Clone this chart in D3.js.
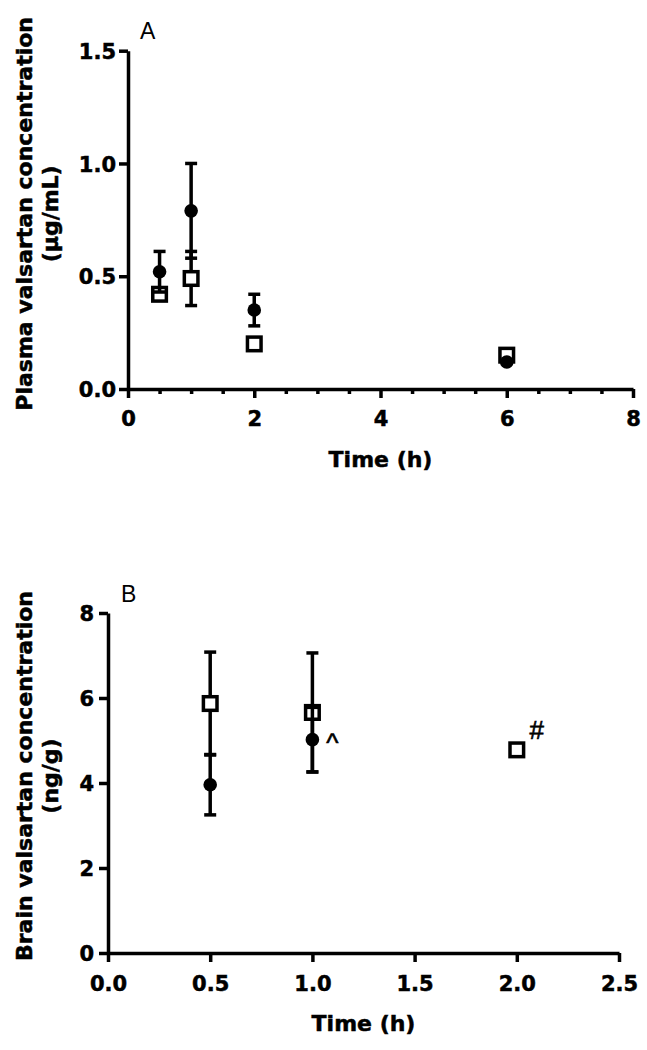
<!DOCTYPE html>
<html><head><meta charset="utf-8">
<script src="https://cdn.jsdelivr.net/npm/d3@7"></script>
<style>body{margin:0;background:#fff}</style>
</head><body><svg id="c" width="647" height="1050" xmlns="http://www.w3.org/2000/svg"></svg>
<script>
// ---- Panel A data (plasma, µg/mL) ----
const timesA = [0.5, 1, 2, 6];
const filledA = [0.52, 0.79, 0.35, 0.12];
const filledAErr = [0.09, 0.21, 0.07, 0];
const openA = [0.42, 0.49, 0.20, 0.15];
const openAErr = [0, 0.12, 0, 0];
const xTicksA = [0, 2, 4, 6, 8];
const xMinorA = [0.5, 1, 1.5, 2.5, 3, 3.5, 4.5, 5, 5.5, 6.5, 7, 7.5];
const yTicksA = [0, 0.5, 1.0, 1.5];

// ---- Panel B data (brain, ng/g) ----
const timesB = [0.5, 1.0, 2.0];
const filledB = [3.96, 5.02, null];
const filledBErr = [0.71, 0.76, null];
const openB = [5.87, 5.66, 4.78];
const openBErr = [1.21, 1.40, 0];
const xTicksB = [0, 0.5, 1.0, 1.5, 2.0, 2.5];
const yTicksB = [0, 2, 4, 6, 8];
const notesB = [{t: 1.0, v: 5.02, label: "^"}, {t: 2.0, v: 4.78, label: "#"}];

const svg = d3.select("#c");
const BOLD = "'DejaVu Sans', sans-serif";
const SW = 3.5;

const boldText = sel => sel.style("font-family", BOLD).style("font-weight", "bold")
  .attr("fill", "#000").attr("stroke", "#000").attr("stroke-width", 0.5);

function drawPanel(o) {
  const x = d3.scaleLinear().domain(o.xDomain).range(o.xRange);
  const y = d3.scaleLinear().domain(o.yDomain).range(o.yRange);
  const g = svg.append("g");

  const styleAxis = sel => {
    sel.select(".domain").attr("stroke", "#000").attr("stroke-width", SW);
    sel.selectAll(".tick line").attr("stroke", "#000").attr("stroke-width", SW);
    sel.selectAll("text").call(boldText).style("font-size", "21px");
  };

  if (o.xMinor) {
    g.append("g").attr("transform", `translate(0,${o.yRange[0]})`)
      .call(d3.axisBottom(x).tickValues(o.xMinor).tickSize(5).tickFormat(""))
      .call(s => { s.select(".domain").remove(); s.selectAll(".tick line").attr("stroke", "#000").attr("stroke-width", SW); });
  }
  g.append("g").attr("transform", `translate(0,${o.yRange[0]})`)
    .call(d3.axisBottom(x).tickValues(o.xTicks).tickFormat(o.xFmt).tickSizeOuter(0).tickSizeInner(9).tickPadding(o.xPad))
    .call(styleAxis);
  g.append("g").attr("transform", `translate(${o.xRange[0]},0)`)
    .call(d3.axisLeft(y).tickValues(o.yTicks).tickFormat(o.yFmt).tickSizeOuter(0).tickSizeInner(9).tickPadding(o.yPad))
    .call(styleAxis)
    .call(s => s.selectAll("text").attr("dy", "0.36em"));

  // error bars + markers: open squares first, then filled circles on top
  const errBar = (t, v, e) => {
    if (v == null || !e) return;
    const cx = x(t);
    g.append("line").attr("x1", cx).attr("x2", cx).attr("y1", y(v - e)).attr("y2", y(v + e))
      .attr("stroke", "#000").attr("stroke-width", SW);
    [v - e, v + e].forEach(b => g.append("line").attr("x1", cx - 6).attr("x2", cx + 6)
      .attr("y1", y(b)).attr("y2", y(b)).attr("stroke", "#000").attr("stroke-width", SW));
  };
  o.times.forEach((t, i) => errBar(t, o.open[i], o.openErr[i]));
  o.times.forEach((t, i) => {
    if (o.open[i] == null) return;
    g.append("rect").attr("x", x(t) - 6.8).attr("y", y(o.open[i]) - 6.8).attr("width", 13.6).attr("height", 13.6)
      .attr("fill", "#fff").attr("stroke", "#000").attr("stroke-width", SW);
  });
  o.times.forEach((t, i) => errBar(t, o.filled[i], o.filledErr[i]));
  o.times.forEach((t, i) => {
    if (o.filled[i] == null) return;
    g.append("circle").attr("cx", x(t)).attr("cy", y(o.filled[i])).attr("r", 6.8).attr("fill", "#000");
  });

  // titles
  const yc = (o.yRange[0] + o.yRange[1]) / 2 - o.yTitleShift;
  o.yTitle.forEach((line, k) => {
    g.append("text").attr("transform", `translate(${32 + 26 * k},${yc}) rotate(-90)`)
      .attr("text-anchor", "middle").call(boldText).style("font-size", "22px").text(line);
  });
  g.append("text").attr("x", (o.xRange[0] + o.xRange[1]) / 2).attr("y", o.xTitleY)
    .attr("text-anchor", "middle").call(boldText).style("font-size", "22px").text("Time (h)");
  g.append("text").attr("x", o.letterX).attr("y", o.letterY)
    .style("font-family", "'Liberation Sans', Arial, sans-serif").style("font-size", "23px").text(o.letter);

  (o.notes || []).forEach(n => {
    g.append("text").attr("x", x(n.t) + 20).attr("y", y(n.v) + (n.label === "^" ? 12 : -11))
      .attr("text-anchor", "middle").style("font-family", "'Liberation Sans', Arial, sans-serif")
      .attr("stroke", "#000").attr("stroke-width", 0.6)
      .style("font-size", "26px").text(n.label);
  });
}

drawPanel({
  xDomain: [0, 8], xRange: [128, 633], yDomain: [0, 1.5], yRange: [389, 50.7],
  xTicks: xTicksA, xMinor: xMinorA, yTicks: yTicksA,
  xFmt: d3.format("d"), yFmt: d3.format(".1f"), xPad: 13, yPad: 3,
  times: timesA, filled: filledA, filledErr: filledAErr, open: openA, openErr: openAErr,
  yTitle: ["Plasma valsartan concentration", "(µg/mL)"], yTitleShift: 6,
  xTitleY: 467, letter: "A", letterX: 140, letterY: 39
});
drawPanel({
  xDomain: [0, 2.5], xRange: [108, 619], yDomain: [0, 8], yRange: [953, 613],
  xTicks: xTicksB, yTicks: yTicksB,
  xFmt: d3.format(".1f"), yFmt: d3.format("d"), xPad: 14, yPad: 5,
  times: timesB, filled: filledB, filledErr: filledBErr, open: openB, openErr: openBErr,
  yTitle: ["Brain valsartan concentration", "(ng/g)"], yTitleShift: 7,
  xTitleY: 1031, letter: "B", letterX: 121, letterY: 602, notes: notesB
});
</script></body></html>
